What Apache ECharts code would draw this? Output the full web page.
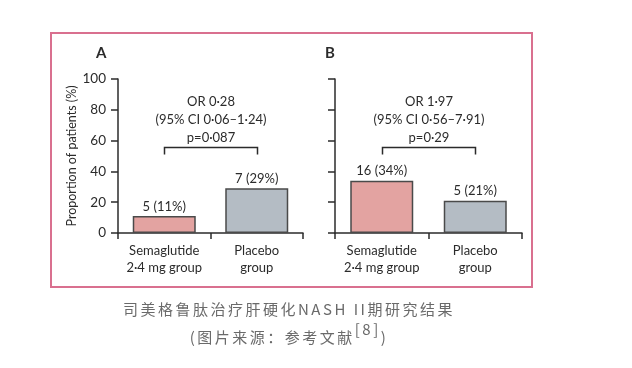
<!DOCTYPE html>
<html><head><meta charset="utf-8">
<script src="https://cdn.jsdelivr.net/npm/echarts@6/dist/echarts.min.js"></script>
<style>
html,body{margin:0;padding:0;background:#fff}
#wrap{position:relative;width:632px;height:368px}
#c{width:632px;height:368px}
.cap{position:absolute;left:0;width:578px;text-align:center;color:#6a6a6a;font-family:"Noto Sans CJK SC",sans-serif;font-size:15px;letter-spacing:2.5px;line-height:20px;white-space:nowrap}
.cap sup{font-size:15px;position:relative;top:-2px;line-height:0}
</style>
</head><body><div id="wrap"><div id="c"></div>
<div class="cap" id="cap1" style="top:299px"></div>
<div class="cap" id="cap2" style="top:327px"></div>
</div>
<script>
const categories = ['Semaglutide\n2·4 mg group', 'Placebo\ngroup'];
const yTicks = [0, 20, 40, 60, 80, 100];
const panelA_pct = [11, 29];
const panelA_n = [5, 7];
const panelB_pct = [34, 21];
const panelB_n = [16, 5];
const panelA_stats = ['OR 0·28', '(95% CI 0·06–1·24)', 'p=0·087'];
const panelB_stats = ['OR 1·97', '(95% CI 0·56–7·91)', 'p=0·29'];
const bracketLevel = 56;
const panelTitles = ['A', 'B'];
const captionLine1 = '司美格鲁肽治疗肝硬化NASH II期研究结果';
const captionLine2a = '(图片来源：参考文献';
const captionSup = '[8]';
const captionLine2b = ')';

document.getElementById('cap1').textContent = captionLine1;
const c2 = document.getElementById('cap2');
c2.appendChild(document.createTextNode(captionLine2a));
const sup = document.createElement('sup'); sup.textContent = captionSup; c2.appendChild(sup);
c2.appendChild(document.createTextNode(captionLine2b));

const FONT = 'Lato, "Liberation Sans", sans-serif';
const INK = '#2b2b2b';
const barColors = ['#e3a3a1', '#b4bcc4'];

const chart = echarts.init(document.getElementById('c'), null, {renderer: 'canvas'});

function xAxisCfg(gi) {
  return {
    type: 'category', gridIndex: gi, data: categories,
    axisLine: {lineStyle: {color: INK, width: 1.5}},
    axisTick: {show: true, length: 6, lineStyle: {color: INK, width: 1.5}},
    axisLabel: {interval: 0, color: INK, fontFamily: FONT, fontSize: 13, lineHeight: 17, margin: 9}
  };
}
function yAxisCfg(gi, showLabels) {
  return {
    type: 'value', gridIndex: gi, min: 0, max: 100, interval: 20,
    name: showLabels ? 'Proportion of patients (%)' : '',
    nameLocation: 'middle', nameGap: 38,
    nameTextStyle: {color: INK, fontFamily: FONT, fontSize: 12.5},
    splitLine: {show: false},
    axisLine: {show: true, lineStyle: {color: INK, width: 1.5}},
    axisTick: {show: true, length: 7, lineStyle: {color: INK, width: 1.5}},
    axisLabel: {show: showLabels, color: INK, fontFamily: FONT, fontSize: 13.5, margin: 12,
      formatter: v => yTicks.includes(v) ? String(v) : ''}
  };
}
function barSeries(gi, pct, n) {
  return {
    type: 'bar', xAxisIndex: gi, yAxisIndex: gi, barWidth: 63,
    data: pct.map((v, i) => ({value: v, itemStyle: {color: barColors[i]}})),
    itemStyle: {borderColor: '#4a4a4a', borderWidth: 1.5},
    label: {show: true, position: 'top', distance: 3, color: INK, fontFamily: FONT, fontSize: 13,
      formatter: p => n[p.dataIndex] + ' (' + pct[p.dataIndex] + '%)'}
  };
}
function bracketSeries(gi, stats) {
  return {
    type: 'custom', xAxisIndex: gi, yAxisIndex: gi, silent: true,
    data: [[0, 1, bracketLevel]],
    renderItem: function (params, api) {
      const p0 = api.coord([api.value(0), api.value(2)]);
      const p1 = api.coord([api.value(1), api.value(2)]);
      const y = Math.round(p0[1]) + 0.5;
      const x0 = Math.round(p0[0]) + 0.5, x1 = Math.round(p1[0]) + 0.5;
      const cx = (x0 + x1) / 2;
      const children = [{
        type: 'polyline',
        shape: {points: [[x0, y + 7], [x0, y], [x1, y], [x1, y + 7]]},
        style: {stroke: INK, lineWidth: 1.5, fill: null}
      }];
      stats.forEach((t, i) => {
        children.push({
          type: 'text',
          style: {text: t, x: cx, y: y - 46 + i * 18, align: 'center', verticalAlign: 'middle',
            fill: INK, font: '13px ' + FONT}
        });
      });
      return {type: 'group', children: children};
    }
  };
}

chart.setOption({
  animation: false,
  grid: [
    {left: 118, top: 79, width: 185, height: 154},
    {left: 335, top: 79, width: 187, height: 154}
  ],
  xAxis: [xAxisCfg(0), xAxisCfg(1)],
  yAxis: [yAxisCfg(0, true), yAxisCfg(1, false)],
  series: [
    barSeries(0, panelA_pct, panelA_n),
    barSeries(1, panelB_pct, panelB_n),
    bracketSeries(0, panelA_stats),
    bracketSeries(1, panelB_stats)
  ],
  graphic: [
    {type: 'rect', shape: {x: 51, y: 33, width: 481, height: 254},
      style: {fill: null, stroke: '#d9708f', lineWidth: 2}, silent: true},
    {type: 'text', left: 96, top: 46, style: {text: panelTitles[0], fill: INK, font: 'bold 15px ' + FONT}},
    {type: 'text', left: 325, top: 46, style: {text: panelTitles[1], fill: INK, font: 'bold 15px ' + FONT}}
  ]
});
</script>
</body></html>
